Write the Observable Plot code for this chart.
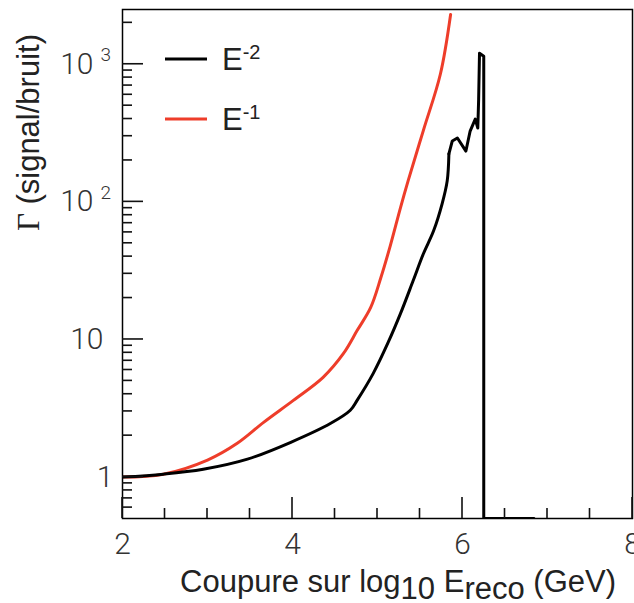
<!DOCTYPE html>
<html><head><meta charset="utf-8">
<script src="https://cdn.jsdelivr.net/npm/d3@7"></script>
<script src="https://cdn.jsdelivr.net/npm/@observablehq/plot@0.6"></script>
<style>
body{margin:0;background:#fff;}
#wrap{position:relative;width:634px;height:603px;}
</style></head><body><div id="wrap"></div>
<script>
// Series E^-1 (red)
const xE1 = [2.00, 2.48, 3.00, 3.35, 3.66, 4.01, 4.36, 4.60, 4.76, 4.92, 5.04, 5.15, 5.27, 5.36, 5.54, 5.74, 5.86];
const yE1 = [1.00, 1.05, 1.33, 1.76, 2.50, 3.61, 5.31, 7.92, 11.6, 17.1, 28.2, 47.9, 90.5, 142, 331, 850, 2302];
// Series E^-2 (black)
const xE2 = [2.00, 2.48, 2.95, 3.47, 3.98, 4.45, 4.68, 4.76, 4.95, 5.12, 5.27, 5.42, 5.54, 5.66, 5.76, 5.82, 5.84, 5.88, 5.94, 6.04, 6.09, 6.15, 6.18, 6.19, 6.20, 6.25, 6.25, 6.84];
const yE2 = [1.00, 1.05, 1.14, 1.35, 1.79, 2.46, 3.06, 3.61, 5.67, 9.35, 15.4, 26.8, 42, 61.6, 96.8, 142, 223, 277, 291, 234, 327, 399, 344, 557, 1202, 1142, 0.5, 0.5];

const xDomain = [2, 8];
const yDomain = [0.5, 2500];
const xTicks = [2, 4, 6, 8];
const xMinorTicks = [2.5, 3, 3.5, 4.5, 5, 5.5, 6.5, 7, 7.5];
const yTicks = [1, 10, 100, 1000];
const yTickBase = ["1", "10", "10", "10"];
const yTickExp = ["", "", "2", "3"];
const yMinorTicks = [0.6, 0.7, 0.8, 0.9, 2, 3, 4, 5, 6, 7, 8, 9, 20, 30, 40, 50, 60, 70, 80, 90, 200, 300, 400, 500, 600, 700, 800, 900, 2000];

const seriesNames = ["E", "E"];
const seriesExps = ["-2", "-1"];
const seriesColors = ["#000000", "#ee3d2a"];

const e1 = xE1.map((x, i) => ({x, y: yE1[i]}));
const e2 = xE2.map((x, i) => ({x, y: yE2[i]}));
const e2smooth = e2.filter(d => d.x <= 5.84);
const e2tail = e2.filter(d => d.x >= 5.84);
const yIdx = yTicks.map((v, i) => i);

const W = 634, H = 603, ML = 122, MR = 2, MT = 9, MB = 85;
const majorLen = 21, minorLen = 10, tw = 1.6;

const tickFont = "Roboto, 'Liberation Sans', sans-serif";

const chart = Plot.plot({
  width: W, height: H,
  marginLeft: ML, marginRight: MR, marginTop: MT, marginBottom: MB,
  x: {domain: xDomain},
  y: {type: "log", domain: yDomain, axis: null},
  style: {fontFamily: tickFont, fontWeight: 300, fontSize: "30px", color: "#333", background: "#fff"},
  marks: [
    Plot.axisX({ticks: xTicks, tickSize: 0, tickPadding: 14, tickFormat: d => String(d), label: null, fontSize: 30, fill: "#333"}),
    // y tick labels
    Plot.text(yIdx, {filter: i => yTickExp[i] === "" && yTickBase[i] === "1", frameAnchor: "left", y: i => yTicks[i], text: i => yTickBase[i], textAnchor: "end", dx: -9, fontSize: 30, fill: "#333"}),
    Plot.text(yIdx, {filter: i => yTickExp[i] === "" && yTickBase[i] !== "1", frameAnchor: "left", y: i => yTicks[i], text: i => yTickBase[i], textAnchor: "end", dx: -19, fontSize: 30, fill: "#333"}),
    Plot.text(yIdx, {filter: i => yTickExp[i] !== "", frameAnchor: "left", y: i => yTicks[i], text: i => yTickBase[i], textAnchor: "end", dx: -29, fontSize: 30, fill: "#333"}),
    Plot.text(yIdx, {filter: i => yTickExp[i] !== "", frameAnchor: "left", y: i => yTicks[i], text: i => yTickExp[i], textAnchor: "start", dx: -22, dy: -9, fontSize: 19, fill: "#333"}),
    Plot.line(e1, {x: "x", y: "y", stroke: seriesColors[1], strokeWidth: 3, curve: "catmull-rom", clip: true}),
    Plot.line(e2smooth, {x: "x", y: "y", stroke: seriesColors[0], strokeWidth: 3, curve: "catmull-rom", clip: true}),
    Plot.line(e2tail, {x: "x", y: "y", stroke: seriesColors[0], strokeWidth: 3, clip: true}),
    Plot.frame({stroke: "#000", strokeWidth: 1.5})
  ]
});

document.getElementById("wrap").appendChild(chart);
const svg = d3.select(chart);

// Position helpers: the plot's own scales, with a same-domain fallback
const sx = chart.scale ? chart.scale("x") : null;
const sy = chart.scale ? chart.scale("y") : null;
const fx = d3.scaleLinear().domain(xDomain).range([ML, W - MR]);
const fy = d3.scaleLog().domain(yDomain).range([H - MB, MT]);
const X = v => { const p = sx && sx.apply ? +sx.apply(v) : NaN; return Number.isFinite(p) ? p : fx(v); };
const Y = v => { const p = sy && sy.apply ? +sy.apply(v) : NaN; return Number.isFinite(p) ? p : fy(v); };
const xAxisPos = H - MB, yAxisPos = ML;

// inward ticks (ROOT style) as thin filled rects
const tg = svg.append("g").attr("fill", "#111");
xTicks.forEach(v => tg.append("rect").attr("x", X(v) - tw / 2).attr("y", xAxisPos - majorLen).attr("width", tw).attr("height", majorLen));
xMinorTicks.forEach(v => tg.append("rect").attr("x", X(v) - tw / 2).attr("y", xAxisPos - minorLen).attr("width", tw).attr("height", minorLen));
yTicks.forEach(v => tg.append("rect").attr("x", yAxisPos).attr("y", Y(v) - tw / 2).attr("width", majorLen).attr("height", tw));
yMinorTicks.forEach(v => tg.append("rect").attr("x", yAxisPos).attr("y", Y(v) - tw / 2).attr("width", minorLen).attr("height", tw));

// X axis title
const xt = svg.append("text")
  .attr("x", 616).attr("y", 592)
  .attr("text-anchor", "end")
  .style("font-family", "'Liberation Sans', Arial, sans-serif")
  .style("font-size", "31px").style("font-weight", 400)
  .attr("fill", "#222");
xt.append("tspan").text("Coupure sur log");
xt.append("tspan").attr("dy", 7).text("10");
xt.append("tspan").attr("dy", -7).text(" E");
xt.append("tspan").attr("dy", 7).text("reco");
xt.append("tspan").attr("dy", -7).text(" (GeV)");

// Y axis title
const yt = svg.append("text")
  .attr("transform", "translate(39,34) rotate(-90)")
  .attr("text-anchor", "end")
  .style("font-family", "'Liberation Sans', Arial, sans-serif")
  .style("font-size", "31px").style("font-weight", 400)
  .attr("fill", "#222");
yt.append("tspan").style("font-family", "'Liberation Serif', 'DejaVu Serif', serif").text("Γ");
yt.append("tspan").text(" (signal/bruit)");

// Legend
const legendY = [59, 119];
seriesNames.forEach((name, i) => {
  svg.append("line")
    .attr("x1", 165).attr("x2", 207)
    .attr("y1", legendY[i]).attr("y2", legendY[i])
    .attr("stroke", seriesColors[i]).attr("stroke-width", 3);
  const t = svg.append("text")
    .attr("x", 222).attr("y", legendY[i] + 11)
    .attr("text-anchor", "start")
    .style("font-family", "'Liberation Sans', Arial, sans-serif")
    .style("font-size", "31px").style("font-weight", 400)
    .attr("fill", "#222");
  t.append("tspan").text(name);
  t.append("tspan").attr("dy", -11).style("font-size", "20px").text(seriesExps[i]);
});
</script>
</body></html>
